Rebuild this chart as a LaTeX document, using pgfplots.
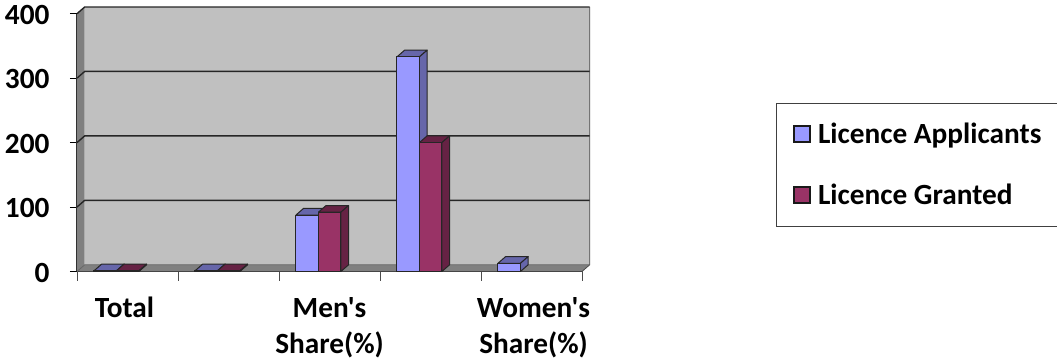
\documentclass[border=0pt]{standalone}
\usepackage{fontspec}
\setmainfont{Carlito}[Ligatures=TeXOff]
\usepackage{pgfplots}
\pgfplotsset{compat=1.18}
\usepackage{pgfplotstable}

\definecolor{appfront}{HTML}{9999FF}
\definecolor{appdark}{HTML}{6666AA}
\definecolor{grafront}{HTML}{993366}
\definecolor{gradark}{HTML}{662244}
\definecolor{wall}{HTML}{C0C0C0}
\definecolor{wallside}{HTML}{808080}

% slot position of each group, applicants and granted
\pgfplotstableread{
x     y
0.39  1
1.39  1
2.39  87.6
3.39  333
4.39  12.7
}\applicants
\pgfplotstableread{
x     y
0.39  1
1.39  1
2.39  92
3.39  200
}\granted

% depth of the oblique projection, in axis units
\def\dx{0.076}
\def\dy{10.4}
\def\halfbar{0.2228}

% top and side faces of one bar: left edge, value, top colour
\newcommand\barfaces[3]{%
  \pgfmathsetmacro\xa{#1}%
  \pgfmathsetmacro\xb{#1+\halfbar}%
  \pgfmathsetmacro\xc{#1+\dx}%
  \pgfmathsetmacro\xd{#1+\halfbar+\dx}%
  \pgfmathsetmacro\yb{#2+\dy}%
  \pgfmathsetmacro\yo{\dy}%
  \addplot[forget plot,fill=#3,draw=black!85,line width=1pt,line join=round]
    coordinates {(\xa,#2)(\xb,#2)(\xd,\yb)(\xc,\yb)(\xa,#2)};
  \addplot[forget plot,fill=#3,draw=black!85,line width=1pt,line join=round]
    coordinates {(\xb,0)(\xd,\yo)(\xd,\yb)(\xb,#2)(\xb,0)};
}

\begin{document}
\begin{tikzpicture}[x=1pt,y=1pt]
\path[use as bounding box] (0,0) rectangle (1057,361);
\begin{axis}[
  at={(77pt,89.5pt)},anchor=south west,
  scale only axis,width=505pt,height=257.8pt,
  xmin=0,xmax=5,ymin=0,ymax=400,
  clip=false,
  axis x line=bottom,axis y line=left,
  axis line style={-,black!85,line width=1pt},
  ytick={0,100,200,300,400},
  xtick={0.47,2.5,4.52},
  xticklabels={Total,Men's\\Share(\%),Women's\\Share(\%)},
  minor xtick={0,1,2,3,4,5},
  major x tick style={draw=none},
  minor x tick style={black!70,line width=0.8pt},
  minor tick length=9pt,
  tick align=outside,
  y tick style={black,line width=1pt},
  major tick length=7pt,
  /pgf/number format/assume math mode=true,
  ticklabel style={font=\fontsize{29.3}{36}\selectfont\bfseries},
  yticklabel style={xshift=-17pt,yshift=-1pt},
  xticklabel style={align=center,anchor=north,yshift=-15pt},
  legend style={
    at={(699pt,168.8pt)},anchor=north west,
    draw=black!75,line width=0.9pt,
    font=\fontsize{29.3}{36}\selectfont\bfseries,
    inner xsep=17pt,inner ysep=18pt,
    row sep=35pt,
  },
  legend cell align=left,
  legend image code/.code={
    \draw[#1,line width=1.6pt,draw=black!90] (0pt,-8pt) rectangle (16pt,8pt);
  },
]
% walls of the plot box
\addplot[forget plot,fill=wallside,draw=none] coordinates {(0,0)(\dx,\dy)(\dx,410.4)(0,400)};
\addplot[forget plot,fill=wall,draw=none] coordinates {(\dx,\dy)(5.076,\dy)(5.076,410.4)(\dx,410.4)};
\addplot[forget plot,fill=wallside,draw=none] coordinates {(0,0)(5,0)(5.076,\dy)(\dx,\dy)};
\addplot[forget plot,black!70,line width=0.8pt] coordinates {(5,0)(5.076,\dy)(5.076,410.4)};
% grid on the back wall
\addplot[forget plot,black!85,line width=1.4pt] coordinates {(0,100)(\dx,110.4)(5.076,110.4)};
\addplot[forget plot,black!85,line width=1.4pt] coordinates {(0,200)(\dx,210.4)(5.076,210.4)};
\addplot[forget plot,black!85,line width=1.4pt] coordinates {(0,300)(\dx,310.4)(5.076,310.4)};
\addplot[forget plot,black!85,line width=1.4pt] coordinates {(0,400)(\dx,410.4)(5.076,410.4)};
\addplot[forget plot,black!60,line width=0.8pt] coordinates {(0,0)(\dx,\dy)(5.076,\dy)};
% applicants: depth faces, then fronts
\barfaces{0.1677}{1}{appdark}
\barfaces{1.1677}{1}{appdark}
\barfaces{2.1677}{87.6}{appdark}
\barfaces{3.1677}{333}{appdark}
\barfaces{4.1677}{12.7}{appdark}
\addplot[ybar,bar width=22.5pt,bar shift=-11.25pt,fill=appfront,draw=black!85,line width=1pt]
  table[x=x,y=y] {\applicants};
\addlegendentry{\hspace{5pt}Licence Applicants\hspace{60pt}}
% granted: depth faces, then fronts
\barfaces{0.39}{1}{gradark}
\barfaces{1.39}{1}{gradark}
\barfaces{2.39}{92}{gradark}
\barfaces{3.39}{200}{gradark}
\addplot[ybar,bar width=22.5pt,bar shift=11.25pt,fill=grafront,draw=black!85,line width=1pt]
  table[x=x,y=y] {\granted};
\addlegendentry{\hspace{5pt}Licence Granted}
\end{axis}
\end{tikzpicture}
\end{document}
